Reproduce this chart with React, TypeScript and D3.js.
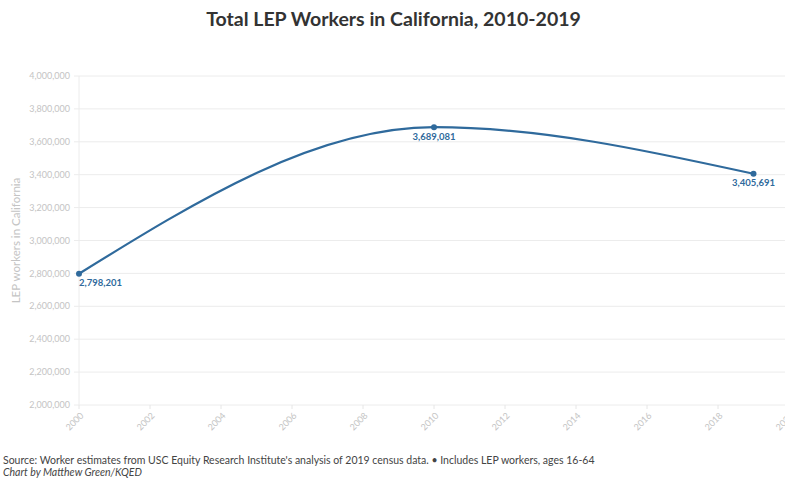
import React from "react";
import * as d3 from "d3";

const years = [2000, 2010, 2019];
const workers = [2798201, 3689081, 3405691];
const yTicks = [2000000, 2200000, 2400000, 2600000, 2800000, 3000000, 3200000, 3400000, 3600000, 3800000, 4000000];
const xTicks = [2000, 2002, 2004, 2006, 2008, 2010, 2012, 2014, 2016, 2018, 2020];
const title = "Total LEP Workers in California, 2010-2019";
const yTitle = "LEP workers in California";
const source = "Source: Worker estimates from USC Equity Research Institute's analysis of 2019 census data. • Includes LEP workers, ages 16-64";
const credit = "Chart by Matthew Green/KQED";

const W = 785;
const H = 478;
const FONT = "'Source Sans Pro', Lato, 'Open Sans', sans-serif";
const BLUE = "#2f6a9c";

export default function App() {
  const x = d3.scaleLinear().domain([2000, 2020]).range([79, 789]);
  const y = d3.scaleLinear().domain([2000000, 4000000]).range([405, 76]);
  const fmt = d3.format(",");
  const line = d3
    .line<number>()
    .x((_, i) => x(years[i]))
    .y((d) => y(d))
    .curve(d3.curveMonotoneX);

  return (
    <svg
      width={W}
      height={H}
      style={{ position: "absolute", left: 0, top: 0, background: "#fff" }}
      fontFamily={FONT}
    >
      <text x={W / 2 + 1} y={26} textAnchor="middle" fontSize={19.5} fontWeight={700} fill="#333">
        {title}
      </text>
      {yTicks.map((t) => (
        <g key={t}>
          <line x1={74} x2={W} y1={y(t)} y2={y(t)} stroke="#ececec" strokeWidth={1} />
          <text x={70} y={y(t)} dy="0.35em" textAnchor="end" fontSize={9} fill="#c4c4c4">
            {fmt(t)}
          </text>
        </g>
      ))}
      <line x1={x(2000)} x2={x(2000)} y1={y(4000000)} y2={y(2000000)} stroke="#ececec" strokeWidth={1} />
      {xTicks.map((t) => (
        <g key={t}>
          <line x1={x(t)} x2={x(t)} y1={y(2000000)} y2={y(2000000) + 4} stroke="#e6e6e6" strokeWidth={1} />
          <text
            transform={`translate(${x(t) + 3},${y(2000000) + 9}) rotate(-45)`}
            textAnchor="end"
            dy="0.35em"
            fontSize={9}
            fill="#c4c4c4"
          >
            {t}
          </text>
        </g>
      ))}
      <text
        transform={`translate(20,${(y(2000000) + y(4000000)) / 2}) rotate(-90)`}
        textAnchor="middle"
        fontSize={11.5}
        fill="#c4c4c4"
      >
        {yTitle}
      </text>
      <path d={line(workers) || ""} fill="none" stroke={BLUE} strokeWidth={2.2} />
      {workers.map((v, i) => (
        <g key={i}>
          <circle cx={x(years[i])} cy={y(v)} r={3} fill={BLUE} />
          <text
            x={x(years[i])}
            y={y(v) + 12.5}
            textAnchor={i === 0 ? "start" : "middle"}
            fontSize={9.5}
            fontWeight={700}
            fill={BLUE}
          >
            {fmt(v)}
          </text>
        </g>
      ))}
      <text x={3} y={464} fontSize={10.5} fill="#444">
        {source}
      </text>
      <text x={3} y={476} fontSize={10.5} fontStyle="italic" fill="#444">
        {credit}
      </text>
    </svg>
  );
}
